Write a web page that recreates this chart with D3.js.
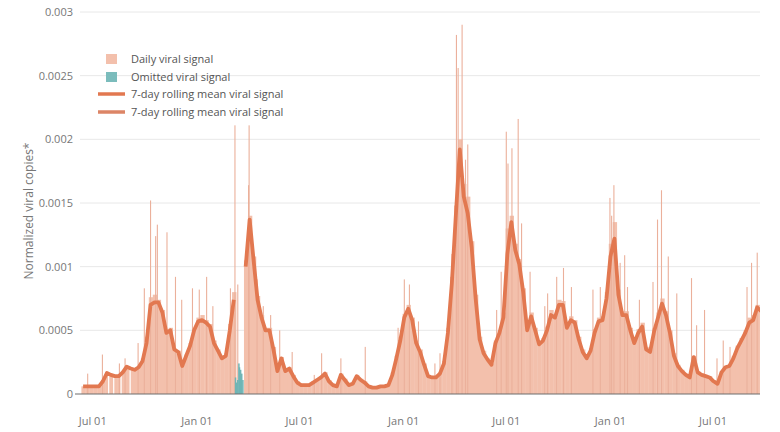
<!DOCTYPE html>
<html><head><meta charset="utf-8">
<script src="https://cdn.jsdelivr.net/npm/d3@7"></script>
<style>body{margin:0;background:#fff;} svg{display:block;font-family:"Open Sans",sans-serif;}</style>
</head><body><svg id="chart" width="780" height="432"></svg>
<script>
// ---- data ----
const weekStart = "2020-06-14"; // first weekly sample, one sample every 7 days
const rollingMean = [
0.00006,0.00006,0.00006,0.00006,0.00006,0.00010,0.000165,0.00015,0.00014,0.00014,
0.00017,0.000215,0.00020,0.00019,0.00021,0.00026,0.00040,0.00070,0.00072,0.00072,
0.00064,0.00048,0.00050,0.00035,0.00033,0.00022,0.00030,0.00038,0.00050,0.00057,
0.00058,0.00056,0.00053,0.00040,0.00034,0.00028,0.00030,0.00050,0.00074,null,
null,0.00100,0.00137,0.00105,0.00074,0.00060,0.00050,0.00050,0.00035,0.00018,
0.00028,0.00018,0.00020,0.00014,0.00009,0.00007,0.00007,0.00007,0.00009,0.00011,
0.00013,0.00016,0.00010,0.00007,0.00006,0.00015,0.00011,0.00007,0.00008,0.00014,
0.00011,0.00009,0.00006,0.00005,0.00005,0.00006,0.00006,0.00007,0.00015,0.00028,
0.00042,0.00060,0.00067,0.00058,0.00040,0.00033,0.00023,0.00014,0.00013,0.00013,
0.00016,0.00024,0.00048,0.00087,0.00140,0.00192,0.00155,0.00142,0.00115,0.00075,
0.00043,0.00032,0.00027,0.00023,0.00040,0.00048,0.00060,0.00110,0.00135,0.00113,
0.00102,0.00080,0.00050,0.00061,0.00050,0.00039,0.00042,0.00050,0.00062,0.00060,
0.00070,0.00070,0.00052,0.00058,0.00056,0.00043,0.00033,0.00028,0.00034,0.00048,
0.00057,0.00058,0.00075,0.00108,0.00122,0.00078,0.00062,0.00062,0.00050,0.00040,
0.00048,0.00053,0.00035,0.00033,0.00049,0.00060,0.00071,0.00062,0.00048,0.00030,
0.00022,0.00018,0.00015,0.00013,0.00029,0.00017,0.00015,0.00014,0.00013,0.00010,
0.00008,0.00017,0.00021,0.00022,0.00028,0.00036,0.00042,0.00048,0.00056,0.00058,
0.00068,0.00065];
const dailySignal = [
0.00006,0.00006,0.00006,0.00007,0.00006,0.00011,0.00017,0.00015,0.00014,0.00015,
0.00018,0.00022,0.00020,0.00019,0.00022,0.00028,0.00045,0.00076,0.00078,0.00074,
0.00066,0.00050,0.00052,0.00036,0.00034,0.00023,0.00031,0.00040,0.00052,0.00060,
0.00062,0.00058,0.00055,0.00042,0.00035,0.00029,0.00032,0.00055,0.00080,null,
null,0.00105,0.00140,0.00108,0.00077,0.00062,0.00052,0.00052,0.00037,0.00019,
0.00029,0.00019,0.00021,0.00015,0.00010,0.00008,0.00008,0.00008,0.00010,0.00012,
0.00014,0.00017,0.00011,0.00008,0.00007,0.00016,0.00012,0.00008,0.00009,0.00015,
0.00012,0.00010,0.00007,0.00006,0.00006,0.00007,0.00007,0.00008,0.00017,0.00030,
0.00045,0.00063,0.00070,0.00060,0.00042,0.00035,0.00024,0.00015,0.00014,0.00014,
0.00017,0.00026,0.00052,0.00092,0.00148,0.00200,0.00165,0.00155,0.00120,0.00078,
0.00045,0.00034,0.00028,0.00024,0.00042,0.00050,0.00064,0.00130,0.00140,0.00118,
0.00106,0.00083,0.00052,0.00064,0.00052,0.00041,0.00044,0.00053,0.00066,0.00063,
0.00074,0.00073,0.00054,0.00061,0.00058,0.00045,0.00035,0.00029,0.00036,0.00051,
0.00060,0.00061,0.00080,0.00118,0.00135,0.00082,0.00065,0.00065,0.00052,0.00042,
0.00051,0.00056,0.00037,0.00035,0.00052,0.00064,0.00075,0.00065,0.00050,0.00032,
0.00023,0.00019,0.00016,0.00014,0.00030,0.00018,0.00016,0.00015,0.00014,0.00011,
0.00009,0.00018,0.00022,0.00023,0.00030,0.00038,0.00044,0.00050,0.00060,0.00062,
0.00070,0.00068];
const spikeDates = [
"2020-06-22","2020-07-18","2020-08-17","2020-08-27","2020-09-19","2020-09-30","2020-10-11","2020-10-20",
"2020-10-23","2020-11-09","2020-11-24","2020-12-05","2020-12-24","2021-01-05","2021-01-18","2021-01-29",
"2021-03-01","2021-03-09","2021-03-14","2021-04-02","2021-04-03","2021-04-17","2021-04-28","2021-05-11",
"2021-05-27","2021-06-18","2021-07-27","2021-08-09","2021-09-12","2021-10-25","2021-12-22","2022-01-02",
"2022-01-11","2022-01-27","2022-02-25","2022-03-06","2022-03-27","2022-04-04","2022-04-07","2022-04-14",
"2022-04-20","2022-04-24","2022-06-14","2022-06-22","2022-07-01","2022-07-04","2022-07-11","2022-07-22",
"2022-07-28","2022-08-12","2022-09-07","2022-09-12","2022-09-28","2022-10-10","2022-10-24","2022-12-01",
"2022-12-14","2022-12-31","2023-01-03","2023-01-07","2023-01-18","2023-01-26","2023-01-31","2023-02-21",
"2023-03-17","2023-03-25","2023-04-01","2023-04-13","2023-04-28","2023-05-24","2023-06-02","2023-06-16",
"2023-07-08","2023-07-19","2023-07-31","2023-08-30","2023-09-07","2023-09-17"];
const spikeValues = [
0.00016,0.00031,0.00024,0.00028,0.00040,0.00083,0.00152,0.00124,
0.00133,0.00127,0.00092,0.00074,0.00083,0.00082,0.00092,0.00069,
0.00083,0.00211,0.00086,0.00164,0.00211,0.00090,0.00069,0.00062,
0.00050,0.00033,0.00015,0.00032,0.00028,0.00037,0.00052,0.00090,
0.00086,0.00057,0.00024,0.00032,0.00110,0.00282,0.00256,0.00290,
0.00184,0.00196,0.00066,0.00096,0.00206,0.00181,0.00193,0.00216,
0.00134,0.00096,0.00069,0.00079,0.00092,0.00099,0.00084,0.00082,
0.00084,0.00154,0.00140,0.00164,0.00103,0.00109,0.00084,0.00074,
0.00088,0.00137,0.00160,0.00108,0.00079,0.00091,0.00054,0.00066,
0.00028,0.00042,0.00037,0.00084,0.00103,0.00111];
const omittedDates = ["2021-03-10","2021-03-12","2021-03-14","2021-03-16","2021-03-17","2021-03-19","2021-03-21","2021-03-23"];
const omittedValues = [0.00013,0.00009,0.00011,0.00024,0.00021,0.00019,0.00016,0.00011];
const missingDates = ["2020-07-28","2020-08-06","2020-08-19","2020-09-04"];
const xTickDates = ["2020-07-01","2021-01-01","2021-07-01","2022-01-01","2022-07-01","2023-01-01","2023-07-01"];
const xTickLabels = ["Jul 01","Jan 01","Jul 01","Jan 01","Jul 01","Jan 01","Jul 01"];
const yTicks = [0,0.0005,0.001,0.0015,0.002,0.0025,0.003];
const yTickLabels = ["0","0.0005","0.001","0.0015","0.002","0.0025","0.003"];
const legendLabels = ["Daily viral signal","Omitted viral signal","7-day rolling mean viral signal","7-day rolling mean viral signal"];
const yTitle = "Normalized viral copies*";

// ---- drawing ----
const parse = d3.utcParse("%Y-%m-%d");
const mLeft = 78, mRight = 760, mTop = 12, mBottom = 394;
const svg = d3.select("#chart");
const x = d3.scaleUtc().domain([parse("2020-06-05"), parse("2023-09-22")]).range([mLeft, mRight]);
const y = d3.scaleLinear().domain([0, 0.003]).range([mBottom, mTop]);
const start = parse(weekStart);
const weekDate = i => d3.utcDay.offset(start, 7 * i);

svg.append("defs").append("clipPath").attr("id","plot")
  .append("rect").attr("x", mLeft).attr("y", 0).attr("width", mRight - mLeft).attr("height", mBottom);

// grid
svg.append("g").selectAll("line").data(yTicks.filter(t => t > 0)).join("line")
  .attr("x1", mLeft + 2).attr("x2", mRight).attr("y1", d => y(d)).attr("y2", d => y(d))
  .attr("stroke", "#e8e8e8").attr("stroke-width", 1);

const plot = svg.append("g").attr("clip-path", "url(#plot)");

// daily signal (weekly blocks)
const daily = dailySignal.map((v, i) => ({d: weekDate(i), v})).filter(o => o.v != null);
plot.append("g").selectAll("rect").data(daily).join("rect")
  .attr("x", o => x(d3.utcDay.offset(o.d, -3)))
  .attr("width", o => x(d3.utcDay.offset(o.d, 4)) - x(d3.utcDay.offset(o.d, -3)) + 0.4)
  .attr("y", o => y(o.v)).attr("height", o => y(0) - y(o.v))
  .attr("fill", "#f3c0ac");

// missing days
const valueAt = dt => { const i = Math.round((dt - start) / 864e5 / 7); return dailySignal[i] || 0; };
plot.append("g").selectAll("rect").data(missingDates.map(parse)).join("rect")
  .attr("x", d => x(d)).attr("width", 1.2)
  .attr("y", d => y(valueAt(d))).attr("height", d => y(0) - y(valueAt(d)))
  .attr("fill", "#ffffff");

// spikes
const spikes = spikeDates.map((s, i) => ({d: parse(s), v: spikeValues[i]}));
plot.append("g").selectAll("rect").data(spikes).join("rect")
  .attr("x", o => x(o.d) - 0.5).attr("width", 1.1)
  .attr("y", o => y(o.v)).attr("height", o => y(0) - y(o.v))
  .attr("fill", "#ebb09b");

// omitted
const omitted = omittedDates.map((s, i) => ({d: parse(s), v: omittedValues[i]}));
plot.append("g").selectAll("rect").data(omitted).join("rect")
  .attr("x", o => x(o.d) - 0.7).attr("width", 1.5)
  .attr("y", o => y(o.v)).attr("height", o => y(0) - y(o.v))
  .attr("fill", "#6fb5b5");

// rolling mean
const line = d3.line().defined(o => o.v != null).x(o => x(o.d)).y(o => y(o.v));
plot.append("path")
  .datum(rollingMean.map((v, i) => ({d: weekDate(i), v})))
  .attr("d", line).attr("fill", "none").attr("stroke", "#e27850")
  .attr("stroke-width", 3.8).attr("stroke-linejoin", "round");

// x axis line
svg.append("line").attr("x1", mLeft - 3).attr("x2", mRight).attr("y1", mBottom).attr("y2", mBottom)
  .attr("stroke", "#6f6f6f").attr("stroke-width", 1.2);

// y tick labels
svg.append("g").selectAll("text").data(yTicks).join("text")
  .attr("x", mLeft - 5).attr("y", d => y(d)).attr("dy", "0.35em")
  .attr("text-anchor", "end").attr("font-size", 11).attr("fill", "#777")
  .text((d, i) => yTickLabels[i]);

// x tick labels
svg.append("g").selectAll("text").data(xTickDates).join("text")
  .attr("x", d => x(parse(d))).attr("y", 421).attr("dy", "0.35em")
  .attr("text-anchor", "middle").attr("font-size", 11).attr("fill", "#777")
  .text((d, i) => xTickLabels[i]);

// y title
svg.append("text").attr("transform", "translate(33,211) rotate(-90)")
  .attr("text-anchor", "middle").attr("font-size", 12).attr("fill", "#777").text(yTitle);

// legend
const lg = svg.append("g");
const rowsY = [59, 77, 94, 112];
lg.append("rect").attr("x", 106).attr("y", rowsY[0] - 5).attr("width", 11).attr("height", 10).attr("fill", "#f3c0ac");
lg.append("rect").attr("x", 106).attr("y", rowsY[1] - 5).attr("width", 11).attr("height", 10).attr("fill", "#7bbcbc");
lg.append("line").attr("x1", 98).attr("x2", 125).attr("y1", rowsY[2]).attr("y2", rowsY[2]).attr("stroke", "#e27850").attr("stroke-width", 3.5);
lg.append("line").attr("x1", 98).attr("x2", 125).attr("y1", rowsY[3]).attr("y2", rowsY[3]).attr("stroke", "#dc8566").attr("stroke-width", 3.5);
lg.selectAll("text").data(legendLabels).join("text")
  .attr("x", 131).attr("y", (d, i) => rowsY[i]).attr("dy", "0.35em")
  .attr("font-size", 11).attr("fill", "#555").text(d => d);
</script></body></html>
